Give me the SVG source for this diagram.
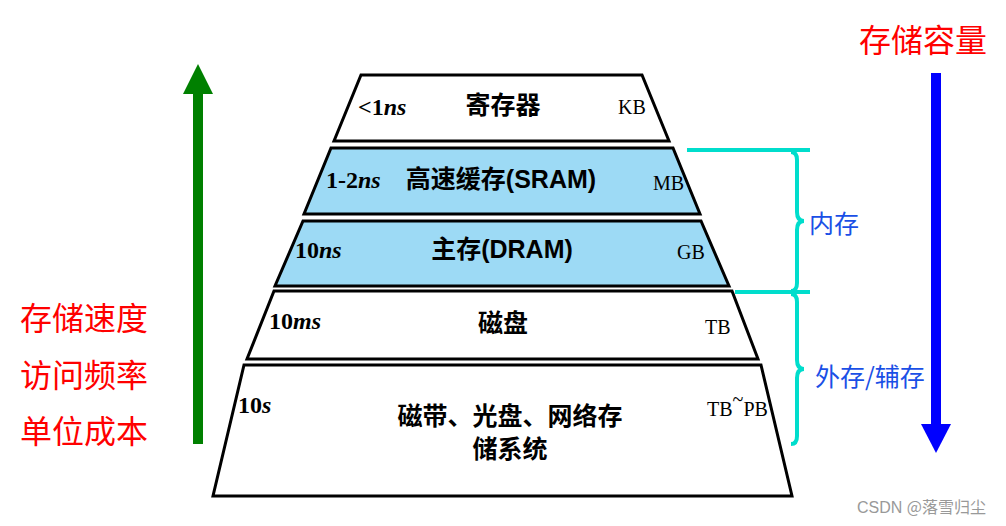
<svg xmlns="http://www.w3.org/2000/svg" width="1006" height="526" viewBox="0 0 1006 526">
<style>
.lvl{stroke:#000;stroke-width:3;stroke-linejoin:miter}
.w{fill:#fff}
.b{fill:#9ddaf5}
.name{font-family:"Liberation Sans","Noto Sans CJK SC",sans-serif;font-weight:bold;font-size:25px;fill:#000;text-anchor:middle}
.spd{font-family:"Liberation Serif","Noto Sans CJK SC",serif;font-weight:bold;font-size:24px;fill:#000}
.spd tspan.i{font-style:italic}
.cap{font-family:"Liberation Serif",serif;font-size:20px;fill:#000}
.red{font-family:"Noto Sans CJK SC",sans-serif;font-size:32px;fill:#ff0000}
.blue{font-family:"Noto Sans CJK SC",sans-serif;font-size:25px;fill:#1a4fe6}
.cy{stroke:#00ddcc;stroke-width:4;fill:none}
</style>
<g id="arrows">
<line x1="198" y1="90" x2="198" y2="444" stroke="#008000" stroke-width="10"/>
<polygon points="183,94 198,64 213,94" fill="#008000"/>
<line x1="936" y1="73" x2="936" y2="428" stroke="#0000ff" stroke-width="10"/>
<polygon points="921,424 951,424 936,453" fill="#0000ff"/>
</g>
<g id="n-register">
<polygon class="lvl w" points="361,75 642,75 669,141 334,141"/>
<text class="spd" x="358" y="115">&lt;1<tspan class="i">ns</tspan></text>
<text class="name" x="503" y="114" font-family="Noto Sans CJK SC" font-size="24">寄存器</text>
<text class="cap" x="618" y="114">KB</text>
</g>
<g id="n-sram">
<polygon class="lvl b" points="331,148 673,148 700,214 304,214"/>
<text class="spd" x="326" y="188">1-2<tspan class="i">ns</tspan></text>
<text class="name" x="501" y="188">高速缓存(SRAM)</text>
<text class="cap" x="653" y="190">MB</text>
</g>
<g id="n-dram">
<polygon class="lvl b" points="303,221 701,221 729,286 275,286"/>
<text class="spd" x="295" y="258">10<tspan class="i">ns</tspan></text>
<text class="name" x="502" y="258">主存(DRAM)</text>
<text class="cap" x="677" y="259">GB</text>
</g>
<g id="n-disk">
<polygon class="lvl w" points="274,291 732,291 758,359 247,359"/>
<text class="spd" x="269" y="329">10<tspan class="i">ms</tspan></text>
<text class="name" x="503" y="332" font-size="23">磁盘</text>
<text class="cap" x="705" y="334">TB</text>
</g>
<g id="n-tape">
<polygon class="lvl w" points="244,365 761,365 792,496 213,496"/>
<text class="spd" x="238" y="413">10<tspan class="i">s</tspan></text>
<text class="name" x="510" y="425">磁带、光盘、网络存</text>
<text class="name" x="510" y="458">储系统</text>
<text class="cap" x="707" y="416">TB<tspan dy="-10">~</tspan><tspan dy="10">PB</tspan></text>
</g>
<g id="n-labels">
<text class="red" x="20" y="330">存储速度</text>
<text class="red" x="20" y="387">访问频率</text>
<text class="red" x="20" y="443">单位成本</text>
<text class="red" x="859" y="52">存储容量</text>
</g>
<g id="connectors">
<line class="cy" x1="687" y1="150" x2="810" y2="150"/>
<line class="cy" x1="735" y1="292" x2="810" y2="292"/>
<path class="cy" d="M791,152 Q797,152 797,160 L797,212 Q797,221 804,221 Q797,221 797,230 L797,283 Q797,291 791,291"/>
<path class="cy" d="M791,294 Q797,294 797,302 L797,360 Q797,369 804,369 Q797,369 797,378 L797,436 Q797,444 791,444"/>
</g>
<g id="n-mem">
<text class="blue" x="809" y="233">内存</text>
<text class="blue" x="815" y="386">外存/辅存</text>
</g>
<text x="857" y="513" font-family="Liberation Sans,sans-serif" font-size="16" fill="#999">CSDN <tspan font-family="Noto Sans CJK SC">@落雪归尘</tspan></text>
</svg>
